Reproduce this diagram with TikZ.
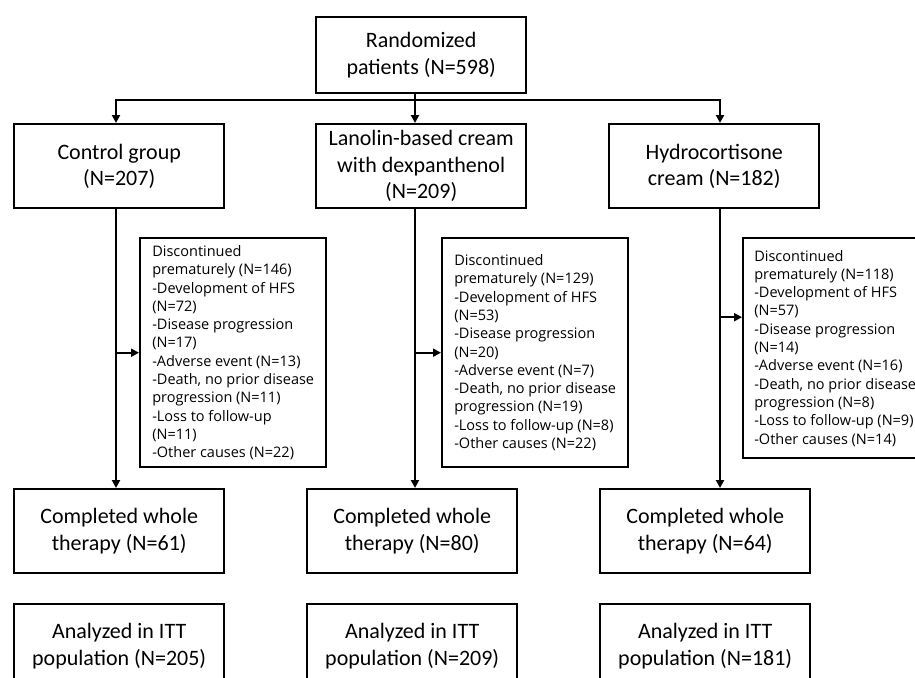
\documentclass[tikz,border=0pt]{standalone}
\usepackage{fontspec}
\setmainfont{Carlito}
\newfontfamily\discfont{Open Sans}
\usetikzlibrary{arrows.meta}
\tikzset{
  flowbox/.style={draw,line width=2.4pt,anchor=north west,align=center,inner sep=0pt,
    minimum width=210pt,minimum height=84pt,font=\fontsize{22}{26.5}\selectfont},
  dropbox/.style={draw,line width=2.4pt,anchor=north west,align=left,inner sep=0pt,
    minimum width=186pt,minimum height=229pt,font=\discfont\fontsize{14.5}{18.3}\selectfont},
  link/.style={line width=2.2pt},
  arr/.style={link,-{Triangle[length=8pt,width=8pt]}}
}
\begin{document}
\begin{tikzpicture}[x=1pt,y=-1pt]
  \useasboundingbox (0,0) rectangle (915,677);
  \clip (0,0) rectangle (915,677);
  \coordinate (colC) at (116,0);
  \coordinate (colL) at (415,0);
  \coordinate (colH) at (720,0);
  \coordinate (fork) at (415,100);
  \node[flowbox,minimum height=76pt] (rand) at (315,16) {Randomized\\patients (N=598)};
  \node[flowbox] (ctrl) at (13,123) {Control group\\(N=207)};
  \node[flowbox] (lano) at (315,123) {Lanolin-based cream\\with dexpanthenol\\(N=209)};
  \node[flowbox] (hydro) at (608,123) {Hydrocortisone\\cream (N=182)};
  \node[dropbox] (dc) at (139,237) {Discontinued\\prematurely (N=146)\\-Development of HFS\\(N=72)\\-Disease progression\\(N=17)\\-Adverse event (N=13)\\-Death, no prior disease\\progression (N=11)\\-Loss to follow-up\\(N=11)\\-Other causes (N=22)};
  \node[dropbox] (dl) at (441,237) {Discontinued\\prematurely (N=129)\\-Development of HFS\\(N=53)\\-Disease progression\\(N=20)\\-Adverse event (N=7)\\-Death, no prior disease\\progression (N=19)\\-Loss to follow-up (N=8)\\-Other causes (N=22)};
  \node[dropbox,minimum width=184pt,minimum height=220pt] (dh) at (742,237) {Discontinued\\prematurely (N=118)\\-Development of HFS\\(N=57)\\-Disease progression\\(N=14)\\-Adverse event (N=16)\\-Death, no prior disease\\progression (N=8)\\-Loss to follow-up (N=9)\\-Other causes (N=14)};
  \node[flowbox] (cc) at (13,488) {Completed whole\\therapy (N=61)};
  \node[flowbox] (cl) at (306,488) {Completed whole\\therapy (N=80)};
  \node[flowbox] (ch) at (599,488) {Completed whole\\therapy (N=64)};
  \node[flowbox] (ac) at (13,603) {Analyzed in ITT\\population (N=205)};
  \node[flowbox] (al) at (306,603) {Analyzed in ITT\\population (N=209)};
  \node[flowbox] (ah) at (599,603) {Analyzed in ITT\\population (N=181)};
  \coordinate (dhin) at ([yshift=31pt]dh.west);
  \draw[link] (rand.south -| fork) -- (fork);
  \draw[arr] (fork) -| (ctrl.north -| colC);
  \draw[arr] (fork) -- (lano.north -| fork);
  \draw[arr] (fork) -| (hydro.north -| colH);
  \draw[arr] (ctrl.south -| colC) -- (cc.north -| colC);
  \draw[arr] (lano.south -| colL) -- (cl.north -| colL);
  \draw[arr] (hydro.south -| colH) -- (ch.north -| colH);
  \draw[arr] (colC |- dc.west) -- (dc.west);
  \draw[arr] (colL |- dl.west) -- (dl.west);
  \draw[arr] (colH |- dhin) -- (dhin);
\end{tikzpicture}
\end{document}
